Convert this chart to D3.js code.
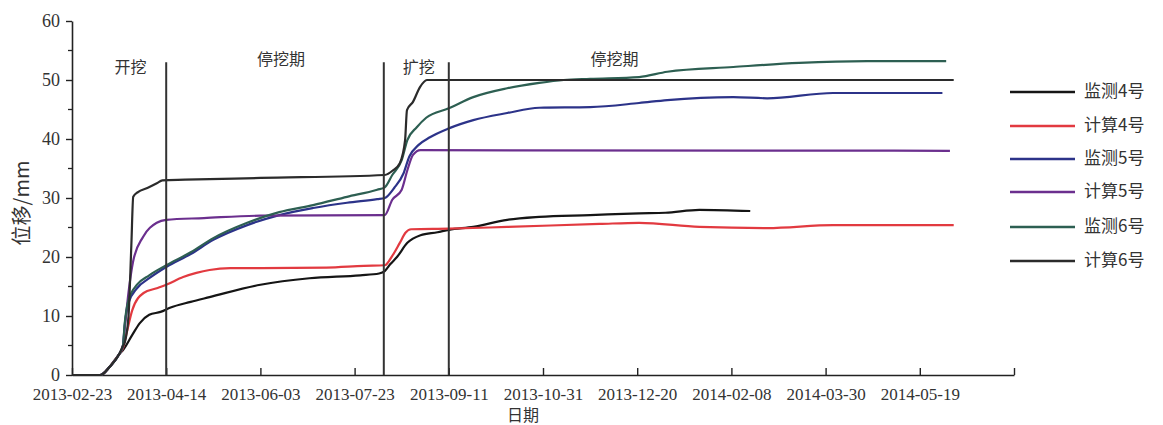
<!DOCTYPE html>
<html>
<head>
<meta charset="utf-8">
<script src="https://cdn.jsdelivr.net/npm/d3@7"></script>
<style>
  html, body { margin: 0; padding: 0; background: #fff; }
  svg { display: block; }
  text { font-family: "Liberation Serif", "Noto Sans CJK SC", serif; fill: #333; }
  .cjk { font-family: "Noto Sans CJK SC", sans-serif; }
</style>
</head>
<body>
<svg id="chart" width="1163" height="425"></svg>
<script>
// ---- data (x = days since 2013-02-23, y = displacement in mm) ----
const tickDays   = [0, 50, 100, 150, 200, 250, 300, 350, 400, 450, 500];
const tickLabels = ["2013-02-23", "2013-04-14", "2013-06-03", "2013-07-23", "2013-09-11",
                    "2013-10-31", "2013-12-20", "2014-02-08", "2014-03-30", "2014-05-19", ""];
const yTicks = [0, 10, 20, 30, 40, 50, 60];

const seriesNames  = ["监测4号", "计算4号", "监测5号", "计算5号", "监测6号", "计算6号"];
const seriesColors = ["#151515", "#e23a40", "#2c3389", "#6b2f8e", "#2d5f52", "#2b2b2b"];

const mon4Days = [0, 15, 20, 25, 27, 32, 36, 41, 47, 52, 63, 73, 100, 126, 153, 163, 166, 169, 172.5, 178, 185, 194, 200, 213, 231, 248, 275, 301, 315, 333, 360];
const mon4Vals = [0, 0, 1.4, 3.5, 4.2, 6.8, 8.8, 10.2, 10.7, 11.4, 12.4, 13.2, 15.3, 16.4, 16.9, 17.2, 17.6, 18.8, 20.0, 22.4, 23.7, 24.2, 24.6, 25.1, 26.3, 26.8, 27.1, 27.4, 27.5, 28.0, 27.8];

const calc4Days = [0, 15, 20, 25, 27, 29, 32, 38, 45, 50, 59, 66, 73, 84, 100, 135, 155, 166, 170, 174, 177, 180, 200, 231, 280, 301, 333, 369, 404, 468];
const calc4Vals = [0, 0, 1.4, 3.5, 4.5, 7.1, 11.0, 13.9, 14.7, 15.3, 16.6, 17.3, 17.8, 18.1, 18.1, 18.2, 18.5, 18.6, 20.2, 22.4, 24.1, 24.7, 24.8, 25.1, 25.6, 25.8, 25.1, 24.9, 25.4, 25.4];

const mon5Days = [0, 15, 20, 25, 27, 28, 30, 34.5, 41, 50, 63, 75, 93, 110, 128, 146, 162, 166, 171, 176, 179, 184, 190, 200, 213, 231, 248, 275, 301, 316, 351, 369, 404, 462];
const mon5Vals = [0, 0, 1.4, 3.5, 4.9, 8.5, 12.2, 14.7, 16.4, 18.3, 20.5, 22.9, 25.4, 27.1, 28.3, 29.2, 29.8, 30.0, 31.7, 34.2, 37.0, 39.0, 40.3, 41.8, 43.2, 44.4, 45.3, 45.4, 46.1, 46.6, 47.1, 46.9, 47.8, 47.8];

const calc5Days = [0, 15, 20, 25, 27, 28, 30, 32.4, 37.7, 45, 50, 70, 100, 166, 170, 175, 178, 181, 185, 466];
const calc5Vals = [0, 0, 1.4, 3.5, 4.9, 8.0, 14.0, 19.2, 23.4, 25.8, 26.3, 26.6, 27.0, 27.1, 29.7, 31.4, 34.7, 37.3, 38.1, 38.0];

const mon6Days = [0, 15, 20, 25, 27, 28, 30, 34.5, 41, 50, 63, 75, 93, 110, 128, 146, 162, 166, 170, 175, 178, 183, 188, 200, 213, 231, 248, 261, 275, 301, 316, 351, 386, 422, 464];
const mon6Vals = [0, 0, 1.4, 3.5, 4.9, 8.8, 12.7, 15.3, 16.9, 18.6, 20.8, 23.2, 25.8, 27.6, 28.8, 30.2, 31.4, 31.8, 33.9, 36.4, 39.8, 42.0, 43.6, 45.2, 47.1, 48.6, 49.5, 50.0, 50.2, 50.5, 51.4, 52.2, 52.9, 53.2, 53.2];

const calc6Days = [0, 15, 20, 25, 27, 28, 30, 31.5, 32.5, 35, 40, 45, 48, 60, 100, 166, 170.4, 174, 176.8, 177.8, 181, 184.7, 188.4, 468];
const calc6Vals = [0, 0, 1.4, 3.5, 4.9, 5.5, 10.0, 22.0, 30.2, 31.0, 31.7, 32.5, 33.0, 33.1, 33.4, 33.9, 34.7, 35.9, 39.8, 44.9, 46.3, 48.8, 50.0, 50.0];

const phaseLineDays = [50, 165.5, 200];
const phaseLabels   = ["开挖", "停挖期", "扩挖", "停挖期"];
const phaseLabelDays = [31, 111, 184, 288];
const phaseLabelVals = [52.0, 53.2, 52.0, 53.2];

// ---- chart ----
const svg = d3.select("#chart");
const x = d3.scaleLinear().domain([0, 500]).range([72, 1014]);
const y = d3.scaleLinear().domain([0, 60]).range([375, 21]);

const allSeries = [
  [mon4Days, mon4Vals], [calc4Days, calc4Vals], [mon5Days, mon5Vals],
  [calc5Days, calc5Vals], [mon6Days, mon6Vals], [calc6Days, calc6Vals]
].map(([d, v], i) => ({ name: seriesNames[i], color: seriesColors[i],
   pts: d.map((dd, j) => [dd, v[j]]) }));

// axes
const xAxis = d3.axisBottom(x).tickValues(tickDays)
  .tickFormat((d, i) => tickLabels[i]).tickSizeInner(-7).tickSizeOuter(0).tickPadding(22);
const gx = svg.append("g").attr("transform", `translate(0,${y(0)})`).call(xAxis);
gx.select(".domain").attr("stroke", "#222").attr("stroke-width", 1.6);
gx.selectAll(".tick line").attr("stroke", "#222").attr("stroke-width", 1.4);
gx.selectAll(".tick text").attr("font-size", 17).attr("fill", "#333")
  .attr("font-family", "Liberation Serif").attr("dy", "0.2em");

const yAxis = d3.axisLeft(y).tickValues(yTicks).tickSizeInner(6).tickSizeOuter(0).tickPadding(6);
const gy = svg.append("g").attr("transform", `translate(${x(0)},0)`).call(yAxis);
gy.select(".domain").attr("stroke", "#222").attr("stroke-width", 1.6);
gy.selectAll(".tick line").attr("stroke", "#222").attr("stroke-width", 1.4);
gy.selectAll(".tick text").attr("font-size", 18).attr("fill", "#333")
  .attr("font-family", "Liberation Serif");
// minor y ticks
svg.append("g").selectAll("line").data(d3.range(5, 60, 10)).join("line")
  .attr("x1", x(0) - 4).attr("x2", x(0)).attr("y1", d => y(d)).attr("y2", d => y(d))
  .attr("stroke", "#222").attr("stroke-width", 1.3);

// lines
const line = d3.line().x(d => x(d[0])).y(d => y(d[1])).curve(d3.curveMonotoneX);
svg.append("g").selectAll("path").data(allSeries).join("path")
  .attr("d", d => line(d.pts)).attr("fill", "none")
  .attr("stroke", d => d.color).attr("stroke-width", 2.2)
  .attr("stroke-linejoin", "round");

// phase lines
svg.append("g").selectAll("line").data(phaseLineDays).join("line")
  .attr("x1", d => x(d)).attr("x2", d => x(d))
  .attr("y1", y(0)).attr("y2", y(53))
  .attr("stroke", "#333").attr("stroke-width", 2);

svg.append("g").selectAll("text").data(phaseLabels).join("text")
  .attr("class", "cjk")
  .attr("x", (d, i) => x(phaseLabelDays[i])).attr("y", (d, i) => y(phaseLabelVals[i]))
  .attr("text-anchor", "middle").attr("dominant-baseline", "middle")
  .attr("font-size", 16).attr("fill", "#444").text(d => d);

// axis titles
svg.append("text").attr("class", "cjk")
  .attr("transform", `translate(24,${(y(0) + y(60)) / 2 + 5}) rotate(-90)`)
  .attr("text-anchor", "middle").attr("dominant-baseline", "middle")
  .attr("font-size", 20).attr("fill", "#333").text("位移/mm");
svg.append("text").attr("class", "cjk")
  .attr("x", 523).attr("y", 417).attr("text-anchor", "middle")
  .attr("dominant-baseline", "middle").attr("font-size", 16).attr("fill", "#333").text("日期");

// legend
const legendY = [92, 126, 159, 192, 227, 261];
const lg = svg.append("g").selectAll("g").data(allSeries).join("g")
  .attr("transform", (d, i) => `translate(1010,${legendY[i]})`);
lg.append("line").attr("x1", 0).attr("x2", 65).attr("y1", 0).attr("y2", 0)
  .attr("stroke", d => d.color).attr("stroke-width", 2.6);
lg.append("text").attr("class", "cjk").attr("x", 74).attr("y", 0)
  .attr("dominant-baseline", "middle").attr("font-size", 17).attr("fill", "#444")
  .text(d => d.name);
</script>
</body>
</html>
